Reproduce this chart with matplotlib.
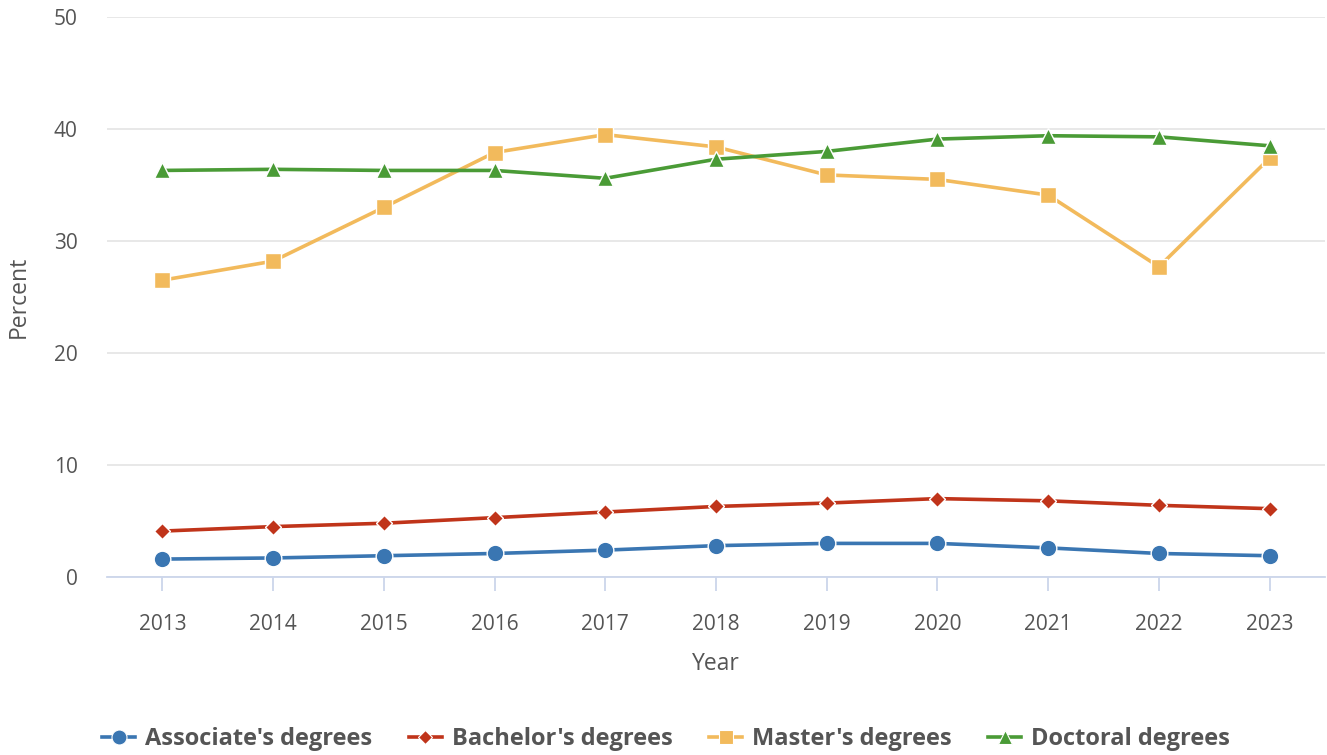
import matplotlib
matplotlib.use('Agg')
import matplotlib.pyplot as plt
from matplotlib.lines import Line2D

plt.rcParams['font.family'] = ['Open Sans', 'DejaVu Sans']

# Data
years = [2013, 2014, 2015, 2016, 2017, 2018, 2019, 2020, 2021, 2022, 2023]
associate = [1.6, 1.7, 1.9, 2.1, 2.4, 2.8, 3.0, 3.0, 2.6, 2.1, 1.9]
bachelor = [4.1, 4.5, 4.8, 5.3, 5.8, 6.3, 6.6, 7.0, 6.8, 6.4, 6.1]
master = [26.5, 28.2, 33.0, 37.9, 39.5, 38.4, 35.9, 35.5, 34.1, 27.7, 37.4]
doctoral = [36.3, 36.4, 36.3, 36.3, 35.6, 37.3, 38.0, 39.1, 39.4, 39.3, 38.5]

series = [
    ("Associate's degrees", associate, '#3a76b2', 'o', 12),
    ("Bachelor's degrees", bachelor, '#c0341a', 'D', 8),
    ("Master's degrees", master, '#f2ba5c', 's', 11),
    ("Doctoral degrees", doctoral, '#4a9b36', '^', 11),
]

fig = plt.figure(figsize=(13.27, 7.55), dpi=100)
ax = fig.add_axes([107 / 1327, 1 - 577 / 755, 1218 / 1327, 560 / 755])

handles = []
for name, vals, color, marker, ms in series:
    ax.plot(years, vals, color=color, lw=2.6, marker=marker, markersize=ms,
            markeredgecolor='white', markeredgewidth=1, zorder=3, clip_on=False)
    handles.append(Line2D([0], [0], color=color, lw=2.6,
                          marker=marker, markersize=ms * 0.9,
                          markeredgecolor='white', markeredgewidth=0.8,
                          label=name))

ax.set_xlim(2012.5, 2023.5)
ax.set_ylim(0, 50)
ax.set_xticks(years)
ax.set_yticks([0, 10, 20, 30, 40, 50])
ax.grid(axis='y', color='#e6e6e6', lw=1.3)
ax.set_axisbelow(True)
for s in ['top', 'right', 'left']:
    ax.spines[s].set_visible(False)
ax.spines['bottom'].set_color('#ccd6eb')
ax.spines['bottom'].set_linewidth(1.3)
ax.tick_params(axis='x', colors='#ccd6eb', length=10, width=1.3, pad=17,
               labelcolor='#555555', labelsize=15)
ax.tick_params(axis='y', length=0, pad=21, labelcolor='#555555', labelsize=15)

ax.set_xlabel('Year', fontsize=16.5, color='#555555', labelpad=12)
ax.set_ylabel('Percent', fontsize=16.5, color='#555555')
ax.yaxis.set_label_coords(-76 / 1218, 0.5)

leg = fig.legend(handles=handles, loc='center', ncol=4, frameon=False,
                 bbox_to_anchor=(666 / 1327, 1 - 739 / 755), handlelength=1.4,
                 columnspacing=1.55, handletextpad=0.42,
                 prop={'weight': 'bold', 'size': 17})
for t in leg.get_texts():
    t.set_color('#555555')

fig.savefig('out.png', dpi=100)
